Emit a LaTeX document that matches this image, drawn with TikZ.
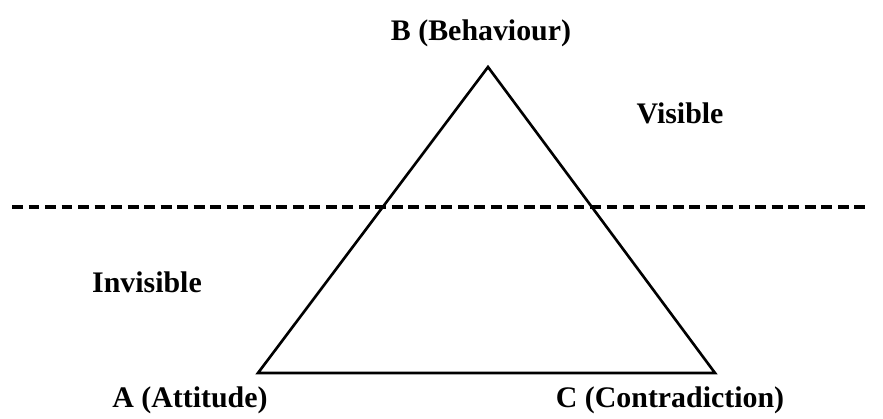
\documentclass[tikz,border=0pt]{standalone}
\usepackage{fontspec}
\setmainfont{Liberation Serif}
\usepackage{tikz}
\usetikzlibrary{positioning}

\begin{document}
\begin{tikzpicture}[
  x=0.02cm, y=-0.02cm,
  lbl/.style={font=\fontsize{17}{20}\selectfont\bfseries, inner sep=0pt},
  side/.style={line width=1.5pt, line join=miter},
  level/.style={line width=1.9pt, dash pattern=on 6.2pt off 3.2pt}
]
  \useasboundingbox (0,0) rectangle (883,419);

  % corners of the triangle
  \coordinate (b) at (488,67);
  \coordinate (a) at (258,373);
  \coordinate (c) at (715,373);
  \draw[side] (a) -- (b) -- (c) -- cycle;

  % the waterline
  \coordinate (wl) at (12,207);
  \coordinate (wr) at (870,207);
  \draw[level] (wl) -- (wr);

  \node[lbl] (lb) at (481,33) {B (Behaviour)};
  \node[lbl] (la) at (190,400) {A (Attitude)};
  \node[lbl] (lc) at (670,400) {C (Contradiction)};
  \node[lbl] (vis) at (680,113) {Visible};
  \node[lbl] (invis) at (147,282) {Invisible};
\end{tikzpicture}
\end{document}
